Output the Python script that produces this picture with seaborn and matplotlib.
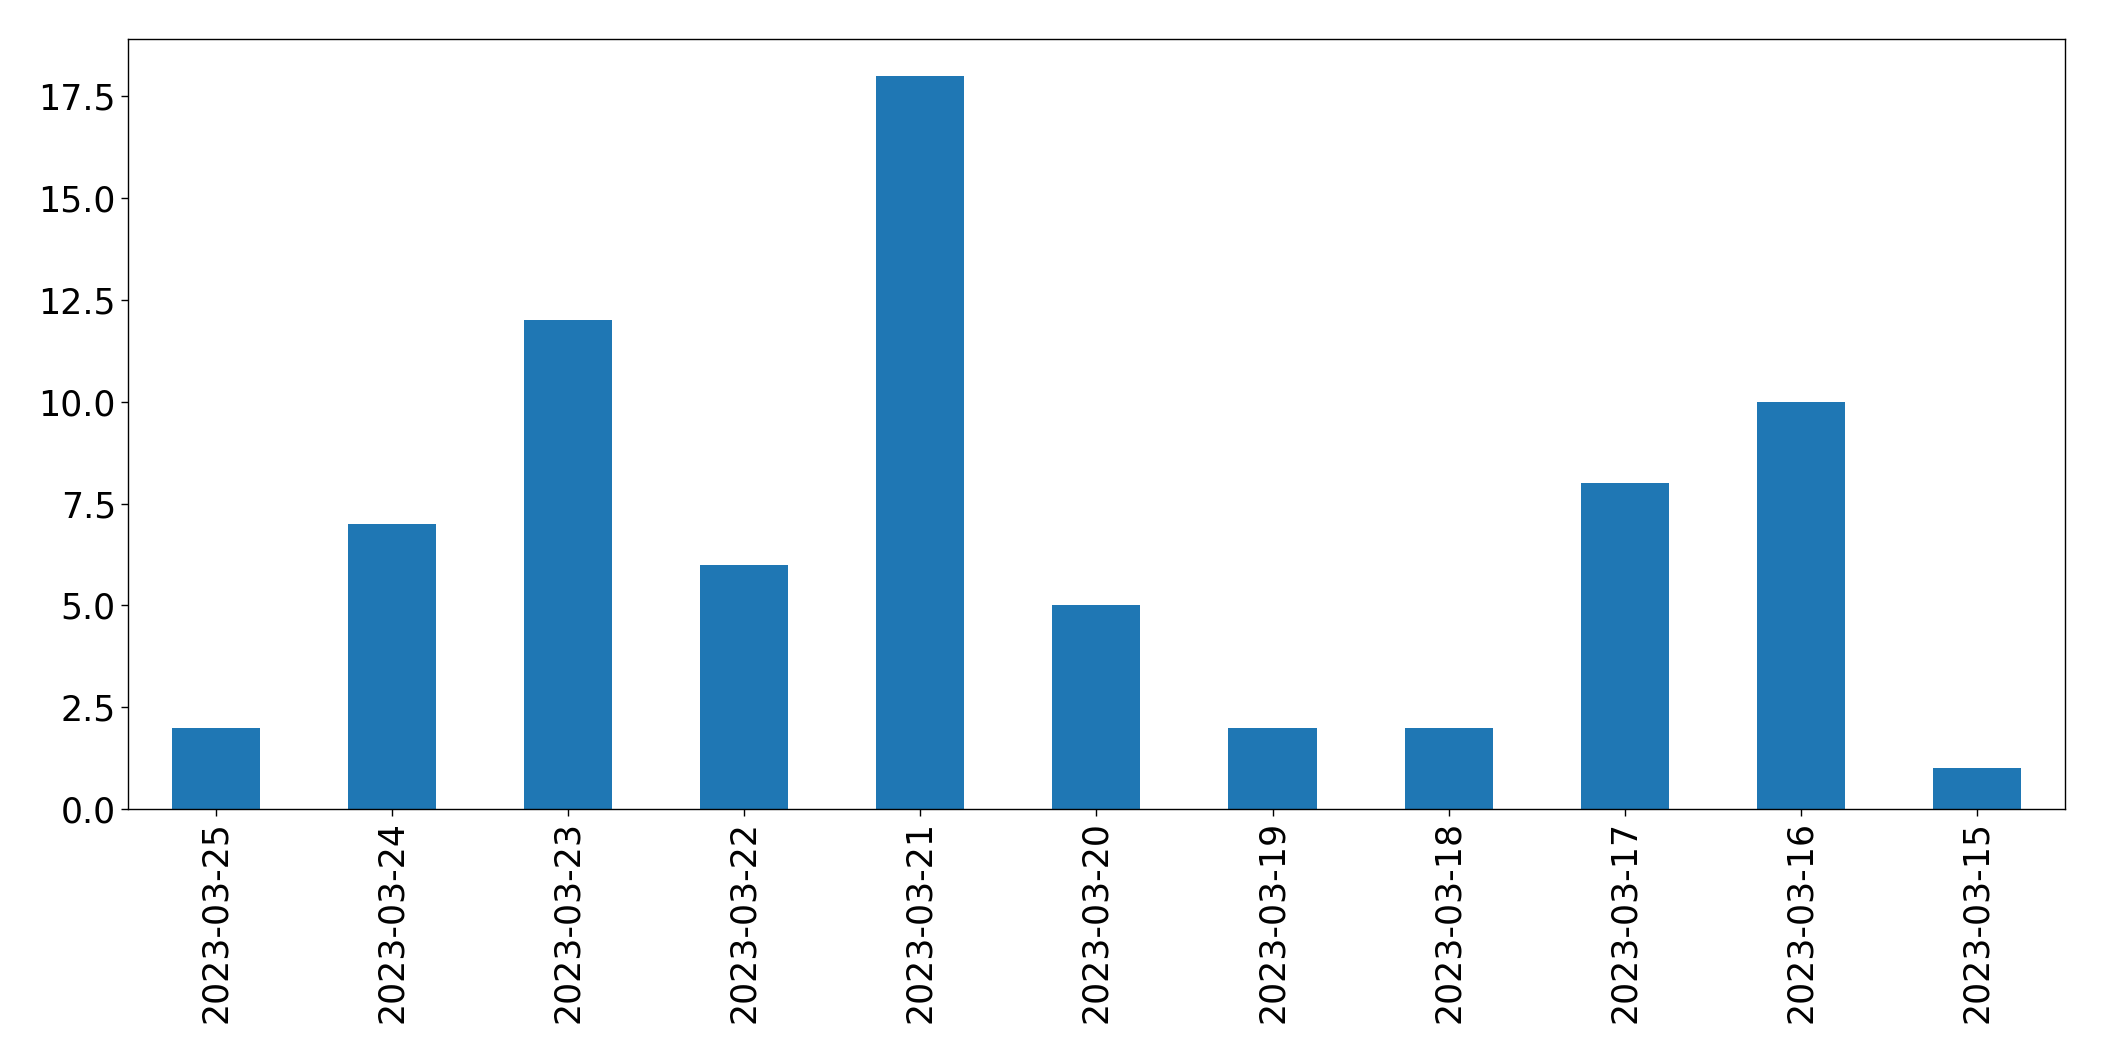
import matplotlib
matplotlib.use('Agg')
import matplotlib.pyplot as plt
import seaborn as sns
import pandas as pd

# data
dates = ['2023-03-25', '2023-03-24', '2023-03-23', '2023-03-22', '2023-03-21',
         '2023-03-20', '2023-03-19', '2023-03-18', '2023-03-17', '2023-03-16',
         '2023-03-15']
counts = [2, 7, 12, 6, 18, 5, 2, 2, 8, 10, 1]

df = pd.DataFrame({'date': dates, 'count': counts})

sns.set_style('ticks')
plt.rcParams['font.family'] = ['DejaVu Sans']

fig, ax = plt.subplots(figsize=(21.04, 10.61), dpi=100)
sns.barplot(data=df, x='date', y='count', order=dates, color='#1f77b4',
            saturation=1, width=0.5, linewidth=0, ax=ax)

ax.set_xlim(-0.5, len(dates) - 0.5)
ax.set_ylim(0, max(counts) * 1.05)
ax.set_xlabel('')
ax.set_ylabel('')
ax.tick_params(axis='both', labelsize=25, length=5, width=1,
               color='black', labelcolor='black')
ax.tick_params(axis='x', rotation=90)
for s in ax.spines.values():
    s.set_visible(True)
    s.set_color('black')
    s.set_linewidth(1)

plt.subplots_adjust(left=0.0607, right=0.9815, top=0.963, bottom=0.2375)
plt.savefig('out.png', dpi=100)
plt.close()
